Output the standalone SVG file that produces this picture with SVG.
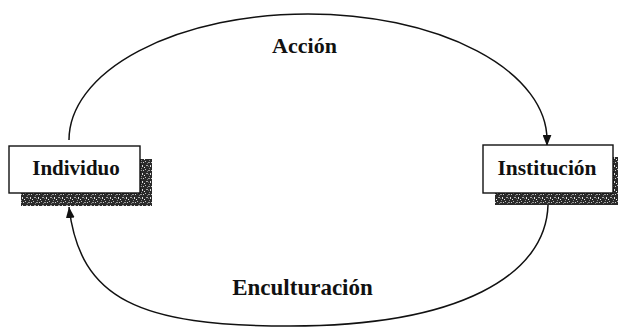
<svg xmlns="http://www.w3.org/2000/svg" width="618" height="327" viewBox="0 0 618 327">
<style>
.box{fill:#ffffff;stroke:#111;stroke-width:1.4}
.shadow{fill:url(#speckle)}
.lbl{font-family:"Liberation Serif","Times New Roman",serif;font-weight:bold;fill:#111;text-anchor:middle}
.conn{fill:none;stroke:#111;stroke-width:1.5}
</style>
<defs>
<pattern id="speckle" width="8" height="8" patternUnits="userSpaceOnUse">
<rect width="8" height="8" fill="#2a2a2a"/>
<rect x="1" y="1" width="1" height="1" fill="#bbb"/>
<rect x="4" y="2" width="2" height="1" fill="#999"/>
<rect x="6" y="5" width="1" height="2" fill="#ddd"/>
<rect x="2" y="5" width="2" height="1" fill="#aaa"/>
<rect x="0" y="7" width="1" height="1" fill="#eee"/>
<rect x="5" y="0" width="1" height="1" fill="#888"/>
<rect x="3" y="3" width="1" height="1" fill="#777"/>
<rect x="7" y="2" width="1" height="1" fill="#ccc"/>
<rect x="4" y="6" width="1" height="1" fill="#666"/>
</pattern>
<marker id="arrow" viewBox="0 0 10 8" refX="10" refY="4" markerWidth="11" markerHeight="9" markerUnits="userSpaceOnUse" orient="auto">
<path d="M0,0 L10,4 L0,8 z" fill="#111"/>
</marker>
</defs>
<g id="connectors">
<path class="conn" d="M69,140 A239,126 0 0 1 547,140 L547,146" marker-end="url(#arrow)"/>
<path class="conn" d="M548,205 C546,275 460,326 290,326 C140,326 80,300 69,207" marker-end="url(#arrow)"/>
</g>
<g id="individuo">
<rect class="shadow" x="21" y="159" width="131" height="47"/>
<rect class="box" x="9" y="146" width="131" height="47"/>
<text class="lbl" x="76" y="175" font-size="21">Individuo</text>
</g>
<g id="institucion">
<rect class="shadow" x="495" y="157" width="131" height="48"/>
<rect class="box" x="483" y="145" width="130" height="48"/>
<text class="lbl" x="547" y="175" font-size="21.5">Institución</text>
</g>
<g id="label-accion">
<text class="lbl" x="304.5" y="53" font-size="22">Acción</text>
</g>
<g id="label-enculturacion">
<text class="lbl" x="302.5" y="295" font-size="23">Enculturación</text>
</g>
</svg>
